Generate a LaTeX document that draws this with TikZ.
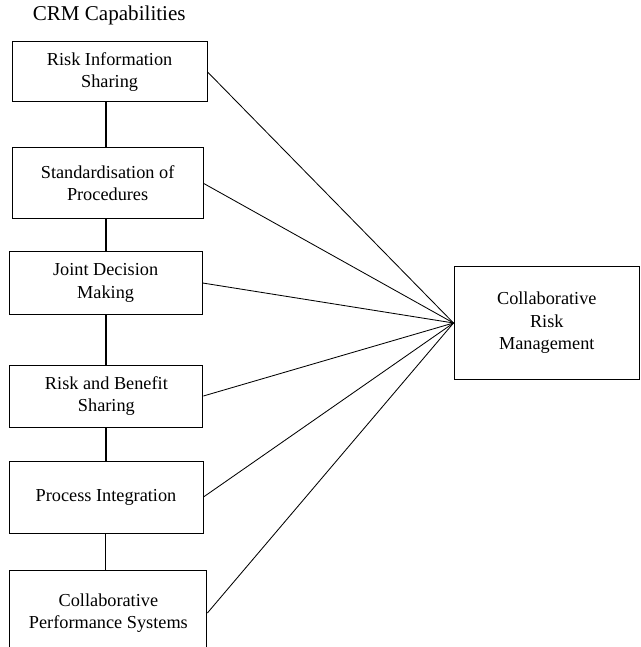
\documentclass[tikz,border=0pt]{standalone}
\usepackage{fontspec}
\setmainfont{Liberation Serif}
\begin{document}
\begin{tikzpicture}[capbox/.style={draw, line width=0.7pt, align=center, font=\fontsize{13}{16}\selectfont, inner sep=0pt}, link/.style={line width=0.6pt}]
	\useasboundingbox (0,0) rectangle (16,16.175);
	\node[font=\rmfamily\fontsize{15}{18}\selectfont] (T) at (2.73,15.8) {CRM Capabilities};
	\node[capbox, minimum width=4.875cm, minimum height=1.5cm] (R1) at (2.74,14.375) {Risk Information\\Sharing};
	\node[capbox, minimum width=4.775cm, minimum height=1.775cm] (R2) at (2.69,11.59) {Standardisation of\\Procedures};
	\node[capbox, minimum width=4.825cm, minimum height=1.55cm] (R3) at (2.64,9.1) {Joint Decision\\Making};
	\node[capbox, minimum width=4.825cm, minimum height=1.55cm] (R4) at (2.66,6.275) {Risk and Benefit\\Sharing};
	\node[capbox, minimum width=4.85cm, minimum height=1.8cm] (R5) at (2.65,3.75) {Process Integration};
	\node[capbox, minimum width=4.925cm, minimum height=2.15cm] (R6) at (2.71,0.85) {Collaborative\\Performance Systems};
	\node[capbox, minimum width=4.64cm, minimum height=2.8cm] (CRM) at (13.67,8.1) {Collaborative\\Risk\\Management};
	\draw[line width=1.4pt] (R1.south -| R3) -- (R2.north -| R3);
	\draw[line width=1.4pt] (R2.south -| R3) -- (R3.north);
	\draw[line width=1.4pt] (R3.south) -- (R4.north -| R3);
	\draw[line width=1.4pt] (R4.south -| R3) -- (R5.north -| R3);
	\draw[line width=0.6pt] (R5.south -| R3) -- (R6.north -| R3);
	\foreach \r in {R1,R2,R3,R4,R5,R6}
		\draw[link] (\r.east) -- (CRM.west);
\end{tikzpicture}
\end{document}
